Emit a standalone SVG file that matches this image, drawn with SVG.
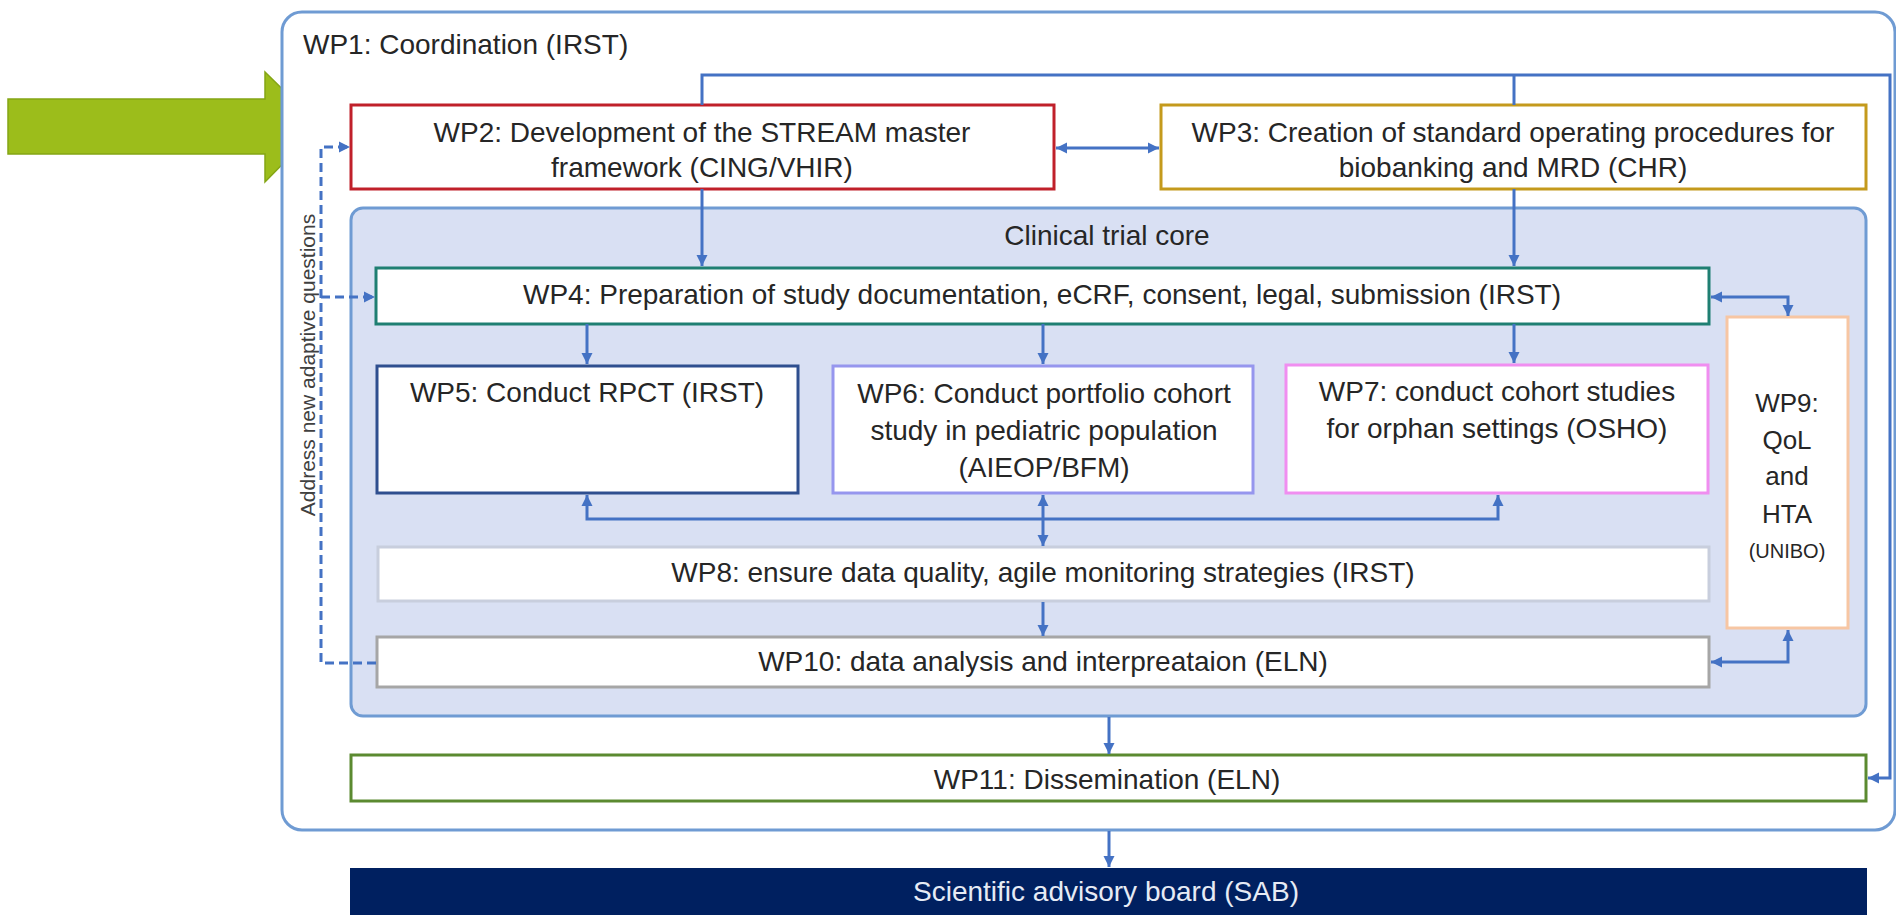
<svg xmlns="http://www.w3.org/2000/svg" width="1896" height="915" viewBox="0 0 1896 915">
<defs>
<marker id="ah" markerUnits="userSpaceOnUse" markerWidth="12" markerHeight="12" refX="11" refY="6" orient="auto-start-reverse">
<path d="M0,0.5 L11,6 L0,11.5 z" fill="#4472c4"/>
</marker>
</defs>
<style>
text{font-family:"Liberation Sans",Arial,sans-serif;fill:#262626;font-size:28px}
.c{text-anchor:middle}
.box{fill:#ffffff;stroke-width:3}
.con{fill:none;stroke:#4472c4;stroke-width:3}
.dash{fill:none;stroke:#4472c4;stroke-width:3;stroke-dasharray:9 5}
</style>
<polygon id="green-arrow" points="8,99 265,99 265,72 320,126 265,182 265,154 8,154" fill="#9cbd1b" stroke="#84a514" stroke-width="1.5"/>
<g id="wp1">
<rect x="282" y="12" width="1613" height="818" rx="20" fill="#ffffff" stroke="#6f9bd3" stroke-width="3"/>
<text x="303" y="54">WP1: Coordination (IRST)</text>
</g>
<g id="core">
<rect x="351" y="208" width="1515" height="508" rx="12" fill="#d9e0f3" stroke="#6f9bd3" stroke-width="3"/>
<text class="c" x="1107" y="245">Clinical trial core</text>
</g>
<g id="wp2">
<rect class="box" x="351" y="105" width="703" height="84" stroke="#c0202a"/>
<text class="c" x="702" y="142">WP2: Development of the STREAM master</text>
<text class="c" x="702" y="177">framework (CING/VHIR)</text>
</g>
<g id="wp3">
<rect class="box" x="1161" y="105" width="705" height="84" stroke="#c49a1c"/>
<text class="c" x="1513" y="142">WP3: Creation of standard operating procedures for</text>
<text class="c" x="1513" y="177">biobanking and MRD (CHR)</text>
</g>
<g id="wp4">
<rect class="box" x="376" y="268" width="1333" height="56" stroke="#1f7f72"/>
<text class="c" x="1042" y="304">WP4: Preparation of study documentation, eCRF, consent, legal, submission (IRST)</text>
</g>
<g id="wp5">
<rect class="box" x="377" y="366" width="421" height="127" stroke="#2f4f8f"/>
<text class="c" x="587" y="402">WP5: Conduct RPCT (IRST)</text>
</g>
<g id="wp6">
<rect class="box" x="833" y="366" width="420" height="127" stroke="#9696ee"/>
<text class="c" x="1044" y="403">WP6: Conduct portfolio cohort</text>
<text class="c" x="1044" y="440">study in pediatric population</text>
<text class="c" x="1044" y="477">(AIEOP/BFM)</text>
</g>
<g id="wp7">
<rect class="box" x="1286" y="365" width="422" height="128" stroke="#f08ef0"/>
<text class="c" x="1497" y="401">WP7: conduct cohort studies</text>
<text class="c" x="1497" y="438">for orphan settings (OSHO)</text>
</g>
<g id="wp8">
<rect class="box" x="378" y="547" width="1331" height="54" stroke="#c8cedd"/>
<text class="c" x="1043" y="582">WP8: ensure data quality, agile monitoring strategies (IRST)</text>
</g>
<g id="wp9">
<rect class="box" x="1727" y="317" width="121" height="311" stroke="#f7c6a3"/>
<text class="c" x="1787" y="412" style="font-size:26px">WP9:</text>
<text class="c" x="1787" y="449" style="font-size:26px">QoL</text>
<text class="c" x="1787" y="485" style="font-size:26px">and</text>
<text class="c" x="1787" y="523" style="font-size:26px">HTA</text>
<text class="c" x="1787" y="558" style="font-size:20px">(UNIBO)</text>
</g>
<g id="wp10">
<rect class="box" x="377" y="637" width="1332" height="50" stroke="#a6a6a6"/>
<text class="c" x="1043" y="671">WP10: data analysis and interpreataion (ELN)</text>
</g>
<g id="wp11">
<rect class="box" x="351" y="755" width="1515" height="46" stroke="#5b8a30"/>
<text class="c" x="1107" y="789">WP11: Dissemination (ELN)</text>
</g>
<g id="sab">
<rect x="350" y="868" width="1517" height="50" fill="#002060"/>
<text class="c" x="1106" y="901" style="fill:#e6ebf5">Scientific advisory board (SAB)</text>
</g>
<text id="adaptive-label" x="315" y="365" class="c" transform="rotate(-90 315 365)" style="font-size:21px;fill:#404040">Address new adaptive questions</text>
<g id="connectors">
<path class="con" d="M702,105 L702,75 L1890,75 L1890,778 L1868,778" marker-end="url(#ah)"/>
<path class="con" d="M1514,75 L1514,105"/>
<path class="con" d="M702,189 L702,266" marker-end="url(#ah)"/>
<path class="con" d="M1514,189 L1514,266" marker-end="url(#ah)"/>
<path class="con" d="M1056,148 L1159,148" marker-start="url(#ah)" marker-end="url(#ah)"/>
<path class="con" d="M587,324 L587,364" marker-end="url(#ah)"/>
<path class="con" d="M1043,324 L1043,364" marker-end="url(#ah)"/>
<path class="con" d="M1514,324 L1514,363" marker-end="url(#ah)"/>
<path class="con" d="M587,495 L587,519 L1498,519 L1498,495" marker-start="url(#ah)" marker-end="url(#ah)"/>
<path class="con" d="M1043,495 L1043,546" marker-start="url(#ah)" marker-end="url(#ah)"/>
<path class="con" d="M1043,602 L1043,636" marker-end="url(#ah)"/>
<path class="con" d="M1711,297 L1788,297 L1788,316" marker-start="url(#ah)" marker-end="url(#ah)"/>
<path class="con" d="M1711,662 L1788,662 L1788,630" marker-start="url(#ah)" marker-end="url(#ah)"/>
<path class="con" d="M1109,717 L1109,754" marker-end="url(#ah)"/>
<path class="con" d="M1109,831 L1109,867" marker-end="url(#ah)"/>
<path class="dash" d="M376,663 L321,663 L321,147 L350,147" marker-end="url(#ah)"/>
<path class="dash" d="M321,297 L375,297" marker-end="url(#ah)"/>
</g>
</svg>
